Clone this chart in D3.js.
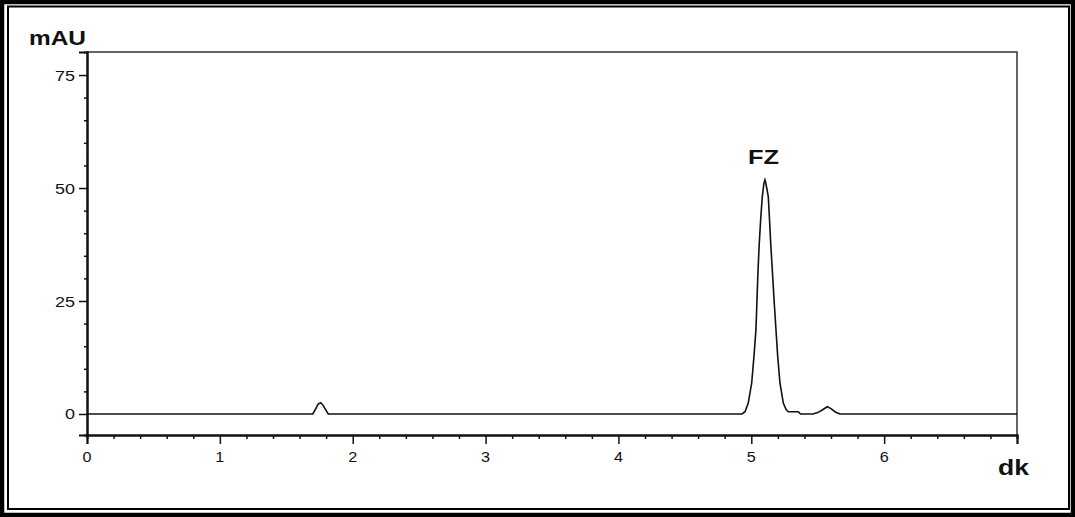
<!DOCTYPE html>
<html>
<head>
<meta charset="utf-8">
<script src="https://d3js.org/d3.v7.min.js"></script>
<style>
  body { margin: 0; background: #fff; }
  text { font-family: "Liberation Sans", Arial, sans-serif; fill: #111; }
</style>
</head>
<body>
<div id="chart"></div>
<script>
// chromatogram trace (time in dk, signal in mAU)
var retentionTime = [0, 1.700, 1.722, 1.740, 1.759, 1.775, 1.791, 1.816,
  4.930, 4.953, 4.977, 5.003, 5.020, 5.035, 5.042, 5.051, 5.060, 5.072, 5.083, 5.095, 5.103, 5.110,
  5.128, 5.136, 5.146, 5.158, 5.173, 5.186, 5.199, 5.216, 5.241, 5.262, 5.279, 5.354, 5.370,
  5.464, 5.500, 5.540, 5.572, 5.600, 5.635, 5.668, 7];
var absorbance = [0, 0, 1.2, 2.2, 2.5, 2.0, 1.2, 0,
  0, 0.5, 2.4, 6.8, 12.7, 18.6, 24.5, 31.9, 37.8, 43.7, 48.1, 51.0, 51.8, 51.0,
  48.1, 43.7, 37.8, 32.0, 24.5, 18.6, 12.7, 6.8, 2.4, 1.0, 0.5, 0.5, 0,
  0, 0.3, 1.0, 1.6, 1.2, 0.4, 0, 0];

var xMajorTicks = [0, 1, 2, 3, 4, 5, 6, 7];
var xTickLabels = ["0", "1", "2", "3", "4", "5", "6"];
var xMinorTicks = [0.2, 0.4, 0.6, 0.8, 1.2, 1.4, 1.6, 1.8, 2.2, 2.4, 2.6, 2.8,
  3.2, 3.4, 3.6, 3.8, 4.2, 4.4, 4.6, 4.8, 5.2, 5.4, 5.6, 5.8, 6.2, 6.4, 6.6, 6.8];
var yMajorTicks = [0, 25, 50, 75];
var yTickLabels = ["0", "25", "50", "75"];
var yMinorTicks = [5, 10, 15, 20, 30, 35, 40, 45, 55, 60, 65, 70];

var peakLabels = [{ name: "FZ", time: 5.103, value: 51.8 }];

var svgWidth = 1075;
var svgHeight = 517;

var margin = { top: 52, bottom: 82, left: 87, right: 58 };
var width = svgWidth - margin.left - margin.right;
var height = svgHeight - margin.top - margin.bottom;

var svg = d3.select("#chart")
  .append("svg")
  .attr("width", svgWidth)
  .attr("height", svgHeight);

// double frame round the picture
svg.append("rect")
  .attr("x", 2).attr("y", 2)
  .attr("width", svgWidth - 4).attr("height", svgHeight - 4)
  .attr("fill", "#fff")
  .attr("stroke", "#000")
  .attr("stroke-width", 4.5);
svg.append("rect")
  .attr("x", 8).attr("y", 6.5)
  .attr("width", 1061).attr("height", 502.5)
  .attr("fill", "none")
  .attr("stroke", "#000")
  .attr("stroke-width", 2);

var chartGroup = svg.append("g")
  .attr("transform", `translate(${margin.left}, ${margin.top})`);

// scales
var xScale = d3.scaleLinear().domain([0, 7]).range([0, width]);
var yScale = d3.scaleLinear().domain([-4.65, 80.1]).range([height, 0]);

// plot box (top and right sides)
chartGroup.append("path")
  .attr("d", `M0,0H${width}V${height}`)
  .attr("fill", "none")
  .attr("stroke", "#333")
  .attr("stroke-width", 1.5);

// axes: ticks only, labels drawn below
var xMinor = chartGroup.append("g")
  .attr("transform", `translate(0, ${height})`)
  .call(d3.axisBottom(xScale).tickValues(xMinorTicks).tickSize(4).tickFormat(""));
var xMajor = chartGroup.append("g")
  .attr("transform", `translate(0, ${height})`)
  .call(d3.axisBottom(xScale).tickValues(xMajorTicks).tickSize(9).tickFormat(""));
var yMinor = chartGroup.append("g")
  .call(d3.axisLeft(yScale).tickValues(yMinorTicks).tickSize(3).tickFormat(""));
var yMajor = chartGroup.append("g")
  .call(d3.axisLeft(yScale).tickValues(yMajorTicks).tickSize(8).tickFormat(""));

[xMinor, xMajor, yMinor, yMajor].forEach(function(g) {
  g.selectAll("path.domain").attr("stroke", "#111").attr("stroke-width", 2);
  g.selectAll("line").attr("stroke", "#111").attr("stroke-width", 1.5);
});

// tick labels
chartGroup.selectAll(".x-label")
  .data(xTickLabels)
  .enter()
  .append("text")
  .classed("x-label", true)
  .attr("x", (d, i) => xScale(xMajorTicks[i]))
  .attr("y", height + 27)
  .attr("text-anchor", "middle")
  .attr("font-size", 15)
  .attr("textLength", d => d.length * 9)
  .attr("lengthAdjust", "spacingAndGlyphs")
  .text(d => d);

chartGroup.selectAll(".y-label")
  .data(yTickLabels)
  .enter()
  .append("text")
  .classed("y-label", true)
  .attr("x", -12)
  .attr("y", (d, i) => yScale(yMajorTicks[i]) + 5.5)
  .attr("text-anchor", "end")
  .attr("font-size", 15)
  .attr("textLength", d => d.length * 10)
  .attr("lengthAdjust", "spacingAndGlyphs")
  .text(d => d);

// signal trace
var line = d3.line()
  .x((d, i) => xScale(retentionTime[i]))
  .y(d => yScale(d));

chartGroup.append("path")
  .datum(absorbance)
  .attr("d", line)
  .attr("fill", "none")
  .attr("stroke", "#111")
  .attr("stroke-width", 1.6);

// peak name
chartGroup.selectAll(".peak-label")
  .data(peakLabels)
  .enter()
  .append("text")
  .classed("peak-label", true)
  .attr("x", d => xScale(d.time) - 17)
  .attr("y", d => yScale(d.value) - 16)
  .attr("textLength", 31)
  .attr("lengthAdjust", "spacingAndGlyphs")
  .style("font-size", "21px")
  .style("font-weight", "bold")
  .text(d => d.name);

// axis titles
svg.append("text")
  .attr("x", 29)
  .attr("y", 45)
  .attr("textLength", 57)
  .attr("lengthAdjust", "spacingAndGlyphs")
  .style("font-size", "20px")
  .style("font-weight", "bold")
  .text("mAU");

svg.append("text")
  .attr("x", 998)
  .attr("y", 475)
  .attr("textLength", 31)
  .attr("lengthAdjust", "spacingAndGlyphs")
  .style("font-size", "22px")
  .style("font-weight", "bold")
  .text("dk");
</script>
</body>
</html>
